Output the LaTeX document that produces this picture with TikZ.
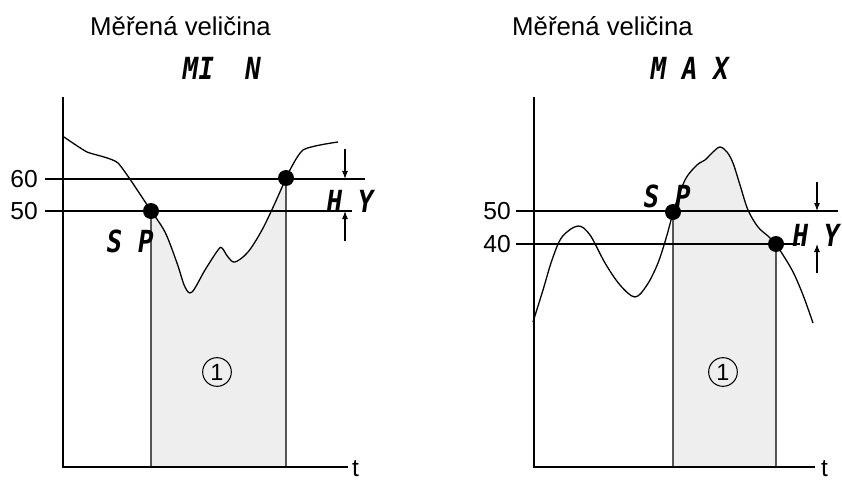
\documentclass[tikz,border=0pt]{standalone}
\usepackage{fontspec}
\setmainfont{Liberation Sans}
\newfontfamily\segfont{DejaVu Sans Mono}[FakeSlant=0.15,FakeStretch=0.85]
\usetikzlibrary{arrows.meta}
\usetikzlibrary{positioning}

\tikzset{
  axis/.style={line width=1.1pt},
  level/.style={line width=1.1pt},
  curve/.style={line width=1.1pt,smooth,tension=0.55},
  zone/.style={fill=gray!13,draw=black,line width=1.1pt},
  dot/.style={circle,fill=black,inner sep=0pt,minimum size=4.8mm},
  hyarrow/.style={line width=0.9pt,-{Latex[length=2.4mm,width=1.8mm]}},
  title/.style={font=\fontsize{22}{26}\selectfont,anchor=base west,inner sep=0pt},
  num/.style={font=\fontsize{21}{25}\selectfont,anchor=east,inner sep=0pt},
  seg/.style={font=\segfont\bfseries\fontsize{26}{30}\selectfont,anchor=base west,inner sep=0pt},
  zonelabel/.style={circle,draw,line width=0.9pt,inner sep=0pt,minimum size=8.6mm,font=\fontsize{20}{24}\selectfont}
}

\begin{document}
\begin{tikzpicture}[x=0.03cm,y=-0.03cm]
\useasboundingbox (0,0) rectangle (842,481);

% ---- left: MIN ----
\coordinate (oL) at (63,467);
\coordinate (topL) at (63,97);
\coordinate (endL) at (348,467);
\coordinate (sp1) at (151,211);
\coordinate (hy1) at (286,178);
\node[title] (titL) at (90,36) {Měřená veličina};
\node[seg] (modeL) at (181,80) {MI\ \ N};

\draw[zone] (sp1 |- oL) -- plot[smooth,tension=0.55] coordinates {(151,211) (165,232) (177,263) (185,287) (192,292) (205,270) (218,250) (222,248) (228,257) (235,262) (248,252) (262,230) (275,203) (286,178)} -- (hy1 |- oL) -- cycle;
\draw[axis] (topL) -- (oL) -- (endL);
\node[font=\fontsize{21}{25}\selectfont,anchor=base west,inner sep=0pt] (tL) at (352,476) {t};

\draw[level] (45,179) -- (365,179);
\draw[level] (45,211) -- (352,211);
\node[num] (n60) at (38,179) {60};
\node[num] (n50L) at (38,211) {50};

\draw[curve,tension=0.3] plot coordinates {(64,137) (87,152) (118,163) (151,211)};
\draw[curve,tension=0.4] plot coordinates {(286,178) (303,150) (338,142)};

\coordinate (aL1) at (345,149);
\coordinate (aL2) at (345,179);
\coordinate (aL3) at (345,241);
\coordinate (aL4) at (345,211);
\draw[hyarrow] (aL1) -- (aL2);
\draw[hyarrow] (aL3) -- (aL4);
\node[seg] (spL) at (105,252) {S P};
\node[seg] (hyL) at (325,212) {H Y};
\node[dot] (sp1dot) at (sp1) {};
\node[dot] (hy1dot) at (hy1) {};
\node[zonelabel] (z1) at (217,372) {1};

% ---- right: MAX ----
\coordinate (oR) at (534,467);
\coordinate (topR) at (534,97);
\coordinate (endR) at (815,467);
\coordinate (sp2) at (673,212);
\coordinate (hy2) at (776,244);
\node[title] (titR) at (512,36) {Měřená veličina};
\node[seg] (modeR) at (649,80) {M A X};

\draw[zone] (sp2 |- oR) -- plot[smooth,tension=0.55] coordinates {(673,212) (685,180) (697,165) (705,160) (713,152) (720,147) (727,152) (733,163) (740,185) (748,210) (758,227) (768,236) (776,244)} -- (hy2 |- oR) -- cycle;
\draw[axis] (topR) -- (oR) -- (endR);
\node[font=\fontsize{21}{25}\selectfont,anchor=base west,inner sep=0pt] (tR) at (821,476) {t};

\draw[level] (516,211) -- (838,211);
\draw[level] (516,244) -- (800,244);
\node[num] (n50R) at (511,211) {50};
\node[num] (n40) at (511,244) {40};

\draw[curve] plot coordinates {(533,322) (543,290) (552,260) (562,237) (578,226) (590,235) (605,263) (620,285) (635,297) (647,285) (658,263) (667,235) (673,212)};
\draw[curve] plot coordinates {(776,244) (792,270) (803,295) (813,323)};

\coordinate (aR1) at (817,182);
\coordinate (aR2) at (817,211);
\coordinate (aR3) at (817,273);
\coordinate (aR4) at (817,244);
\draw[hyarrow] (aR1) -- (aR2);
\draw[hyarrow] (aR3) -- (aR4);
\node[seg] (spR) at (642,207) {S P};
\node[seg] (hyR) at (791,246) {H Y};
\node[dot] (sp2dot) at (sp2) {};
\node[dot] (hy2dot) at (hy2) {};
\node[zonelabel] (z2) at (723,372) {1};

\end{tikzpicture}
\end{document}
